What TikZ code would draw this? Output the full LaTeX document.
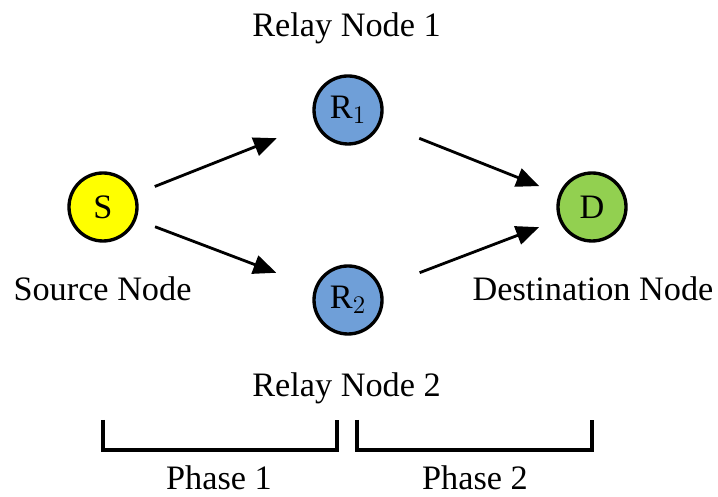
\documentclass[tikz,border=0pt]{standalone}
\usepackage{fontspec}
\setmainfont{Liberation Serif}
\usetikzlibrary{arrows.meta}

\definecolor{srcyellow}{RGB}{255,255,0}
\definecolor{relayblue}{RGB}{111,159,216}
\definecolor{dstgreen}{RGB}{146,208,80}

\begin{document}
\begin{tikzpicture}
	\tikzstyle{every node}=[font=\fontsize{19.5}{23}\selectfont, inner sep=0pt]
	\tikzstyle{station}=[circle, draw, line width=1.9pt, minimum size=1.36cm]
	\tikzstyle{caption}=[anchor=base]
	\tikzstyle{hop}=[-{Stealth[length=0.46cm, width=0.38cm, inset=0pt]}, line width=1.6pt]
	\tikzstyle{phase}=[line width=1.9pt]
	\useasboundingbox (0,0) rectangle (14.36,9.94);
	\draw (2.06,5.80) node (S) [station, fill=srcyellow] {S};
	\draw (6.96,7.74) node (R1) [station, fill=relayblue] {R$_1$};
	\draw (6.96,3.94) node (R2) [station, fill=relayblue] {R$_2$};
	\draw (11.84,5.80) node (D) [station, fill=dstgreen] {D};
	% labels
	\draw (6.93,9.20) node (lR1) [caption] {Relay Node 1};
	\draw (6.93,2.00) node (lR2) [caption] {Relay Node 2};
	\draw (2.05,3.92) node (lS) [caption] {Source Node};
	\draw (11.86,3.92) node (lD) [caption] {Destination Node};
	% links
	\draw[hop, shorten <=0.4cm, shorten >=0.82cm] (S) -- (R1);
	\draw[hop, shorten <=0.4cm, shorten >=0.82cm] (S) -- (R2);
	\draw[hop, shorten <=0.82cm, shorten >=0.42cm] (R1) -- (D);
	\draw[hop, shorten <=0.82cm, shorten >=0.42cm] (R2) -- (D);
	% phases
	\draw[phase] (2.06,1.54) -- (2.06,0.94) -- (6.74,0.94) -- (6.74,1.54);
	\draw[phase] (7.14,1.54) -- (7.14,0.94) -- (11.84,0.94) -- (11.84,1.54);
	\draw (4.38,0.14) node (p1) [caption] {Phase 1};
	\draw (9.50,0.14) node (p2) [caption] {Phase 2};
\end{tikzpicture}
\end{document}
